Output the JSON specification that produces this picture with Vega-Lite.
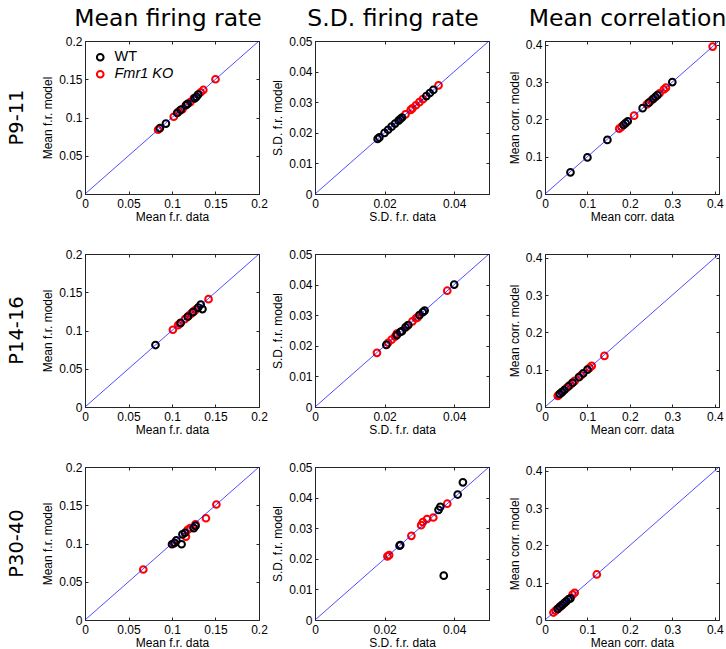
{
  "$schema": "https://vega.github.io/schema/vega-lite/v6.json",
  "padding": {"left": 6, "top": 6, "right": 0, "bottom": 0},
  "autosize": {"type": "pad"},
  "background": "white",
  "datasets": {
    "mfr_p9": [
      {"genotype": "Fmr1 KO", "data": 0.084, "model": 0.084},
      {"genotype": "Fmr1 KO", "data": 0.102, "model": 0.101},
      {"genotype": "Fmr1 KO", "data": 0.108, "model": 0.108},
      {"genotype": "Fmr1 KO", "data": 0.112, "model": 0.111},
      {"genotype": "Fmr1 KO", "data": 0.117, "model": 0.117},
      {"genotype": "Fmr1 KO", "data": 0.121, "model": 0.120},
      {"genotype": "Fmr1 KO", "data": 0.125, "model": 0.125},
      {"genotype": "Fmr1 KO", "data": 0.133, "model": 0.133},
      {"genotype": "Fmr1 KO", "data": 0.136, "model": 0.136},
      {"genotype": "Fmr1 KO", "data": 0.150, "model": 0.150},
      {"genotype": "WT", "data": 0.086, "model": 0.086},
      {"genotype": "WT", "data": 0.093, "model": 0.092},
      {"genotype": "WT", "data": 0.106, "model": 0.106},
      {"genotype": "WT", "data": 0.110, "model": 0.110},
      {"genotype": "WT", "data": 0.116, "model": 0.116},
      {"genotype": "WT", "data": 0.118, "model": 0.118},
      {"genotype": "WT", "data": 0.126, "model": 0.125},
      {"genotype": "WT", "data": 0.128, "model": 0.127},
      {"genotype": "WT", "data": 0.130, "model": 0.130}
    ],
    "sd_p9": [
      {"genotype": "Fmr1 KO", "data": 0.026, "model": 0.026},
      {"genotype": "Fmr1 KO", "data": 0.0275, "model": 0.0275},
      {"genotype": "Fmr1 KO", "data": 0.028, "model": 0.028},
      {"genotype": "Fmr1 KO", "data": 0.029, "model": 0.029},
      {"genotype": "Fmr1 KO", "data": 0.030, "model": 0.030},
      {"genotype": "Fmr1 KO", "data": 0.031, "model": 0.031},
      {"genotype": "Fmr1 KO", "data": 0.0355, "model": 0.0355},
      {"genotype": "WT", "data": 0.018, "model": 0.018},
      {"genotype": "WT", "data": 0.0185, "model": 0.0185},
      {"genotype": "WT", "data": 0.020, "model": 0.020},
      {"genotype": "WT", "data": 0.021, "model": 0.021},
      {"genotype": "WT", "data": 0.022, "model": 0.022},
      {"genotype": "WT", "data": 0.023, "model": 0.023},
      {"genotype": "WT", "data": 0.024, "model": 0.024},
      {"genotype": "WT", "data": 0.0245, "model": 0.0245},
      {"genotype": "WT", "data": 0.025, "model": 0.025},
      {"genotype": "WT", "data": 0.032, "model": 0.032},
      {"genotype": "WT", "data": 0.033, "model": 0.033},
      {"genotype": "WT", "data": 0.034, "model": 0.034}
    ],
    "mc_p9": [
      {"genotype": "Fmr1 KO", "data": 0.175, "model": 0.175},
      {"genotype": "Fmr1 KO", "data": 0.18, "model": 0.18},
      {"genotype": "Fmr1 KO", "data": 0.21, "model": 0.21},
      {"genotype": "Fmr1 KO", "data": 0.24, "model": 0.24},
      {"genotype": "Fmr1 KO", "data": 0.25, "model": 0.25},
      {"genotype": "Fmr1 KO", "data": 0.27, "model": 0.27},
      {"genotype": "Fmr1 KO", "data": 0.28, "model": 0.28},
      {"genotype": "Fmr1 KO", "data": 0.285, "model": 0.285},
      {"genotype": "Fmr1 KO", "data": 0.395, "model": 0.395},
      {"genotype": "WT", "data": 0.06, "model": 0.058},
      {"genotype": "WT", "data": 0.10, "model": 0.098},
      {"genotype": "WT", "data": 0.147, "model": 0.145},
      {"genotype": "WT", "data": 0.185, "model": 0.185},
      {"genotype": "WT", "data": 0.19, "model": 0.19},
      {"genotype": "WT", "data": 0.195, "model": 0.195},
      {"genotype": "WT", "data": 0.23, "model": 0.23},
      {"genotype": "WT", "data": 0.245, "model": 0.245},
      {"genotype": "WT", "data": 0.255, "model": 0.255},
      {"genotype": "WT", "data": 0.26, "model": 0.26},
      {"genotype": "WT", "data": 0.265, "model": 0.265},
      {"genotype": "WT", "data": 0.30, "model": 0.30}
    ],
    "mfr_p14": [
      {"genotype": "Fmr1 KO", "data": 0.101, "model": 0.101},
      {"genotype": "Fmr1 KO", "data": 0.107, "model": 0.107},
      {"genotype": "Fmr1 KO", "data": 0.109, "model": 0.109},
      {"genotype": "Fmr1 KO", "data": 0.115, "model": 0.115},
      {"genotype": "Fmr1 KO", "data": 0.119, "model": 0.119},
      {"genotype": "Fmr1 KO", "data": 0.122, "model": 0.122},
      {"genotype": "Fmr1 KO", "data": 0.125, "model": 0.125},
      {"genotype": "Fmr1 KO", "data": 0.127, "model": 0.127},
      {"genotype": "Fmr1 KO", "data": 0.142, "model": 0.141},
      {"genotype": "WT", "data": 0.081, "model": 0.081},
      {"genotype": "WT", "data": 0.110, "model": 0.110},
      {"genotype": "WT", "data": 0.118, "model": 0.118},
      {"genotype": "WT", "data": 0.124, "model": 0.124},
      {"genotype": "WT", "data": 0.130, "model": 0.130},
      {"genotype": "WT", "data": 0.135, "model": 0.128},
      {"genotype": "WT", "data": 0.133, "model": 0.134}
    ],
    "sd_p14": [
      {"genotype": "Fmr1 KO", "data": 0.0178, "model": 0.0177},
      {"genotype": "Fmr1 KO", "data": 0.021, "model": 0.021},
      {"genotype": "Fmr1 KO", "data": 0.022, "model": 0.022},
      {"genotype": "Fmr1 KO", "data": 0.023, "model": 0.023},
      {"genotype": "Fmr1 KO", "data": 0.0235, "model": 0.024},
      {"genotype": "Fmr1 KO", "data": 0.0265, "model": 0.0265},
      {"genotype": "Fmr1 KO", "data": 0.028, "model": 0.028},
      {"genotype": "Fmr1 KO", "data": 0.029, "model": 0.029},
      {"genotype": "Fmr1 KO", "data": 0.0295, "model": 0.0293},
      {"genotype": "Fmr1 KO", "data": 0.038, "model": 0.038},
      {"genotype": "WT", "data": 0.0205, "model": 0.0203},
      {"genotype": "WT", "data": 0.0235, "model": 0.0235},
      {"genotype": "WT", "data": 0.0245, "model": 0.0245},
      {"genotype": "WT", "data": 0.025, "model": 0.0248},
      {"genotype": "WT", "data": 0.026, "model": 0.026},
      {"genotype": "WT", "data": 0.0268, "model": 0.0268},
      {"genotype": "WT", "data": 0.030, "model": 0.030},
      {"genotype": "WT", "data": 0.031, "model": 0.031},
      {"genotype": "WT", "data": 0.0315, "model": 0.0315},
      {"genotype": "WT", "data": 0.040, "model": 0.040}
    ],
    "mc_p14": [
      {"genotype": "Fmr1 KO", "data": 0.03, "model": 0.03},
      {"genotype": "Fmr1 KO", "data": 0.032, "model": 0.032},
      {"genotype": "Fmr1 KO", "data": 0.04, "model": 0.04},
      {"genotype": "Fmr1 KO", "data": 0.05, "model": 0.05},
      {"genotype": "Fmr1 KO", "data": 0.06, "model": 0.06},
      {"genotype": "Fmr1 KO", "data": 0.065, "model": 0.065},
      {"genotype": "Fmr1 KO", "data": 0.07, "model": 0.07},
      {"genotype": "Fmr1 KO", "data": 0.085, "model": 0.085},
      {"genotype": "Fmr1 KO", "data": 0.105, "model": 0.105},
      {"genotype": "Fmr1 KO", "data": 0.11, "model": 0.11},
      {"genotype": "Fmr1 KO", "data": 0.14, "model": 0.137},
      {"genotype": "WT", "data": 0.035, "model": 0.035},
      {"genotype": "WT", "data": 0.04, "model": 0.04},
      {"genotype": "WT", "data": 0.045, "model": 0.045},
      {"genotype": "WT", "data": 0.055, "model": 0.055},
      {"genotype": "WT", "data": 0.065, "model": 0.065},
      {"genotype": "WT", "data": 0.08, "model": 0.08},
      {"genotype": "WT", "data": 0.09, "model": 0.09},
      {"genotype": "WT", "data": 0.1, "model": 0.1}
    ],
    "mfr_p30": [
      {"genotype": "Fmr1 KO", "data": 0.067, "model": 0.066},
      {"genotype": "Fmr1 KO", "data": 0.102, "model": 0.100},
      {"genotype": "Fmr1 KO", "data": 0.116, "model": 0.109},
      {"genotype": "Fmr1 KO", "data": 0.118, "model": 0.118},
      {"genotype": "Fmr1 KO", "data": 0.121, "model": 0.120},
      {"genotype": "Fmr1 KO", "data": 0.127, "model": 0.125},
      {"genotype": "Fmr1 KO", "data": 0.139, "model": 0.133},
      {"genotype": "Fmr1 KO", "data": 0.151, "model": 0.151},
      {"genotype": "WT", "data": 0.100, "model": 0.099},
      {"genotype": "WT", "data": 0.103, "model": 0.101},
      {"genotype": "WT", "data": 0.105, "model": 0.104},
      {"genotype": "WT", "data": 0.111, "model": 0.099},
      {"genotype": "WT", "data": 0.112, "model": 0.112},
      {"genotype": "WT", "data": 0.115, "model": 0.114},
      {"genotype": "WT", "data": 0.125, "model": 0.120},
      {"genotype": "WT", "data": 0.127, "model": 0.123}
    ],
    "sd_p30": [
      {"genotype": "Fmr1 KO", "data": 0.0208, "model": 0.0208},
      {"genotype": "Fmr1 KO", "data": 0.0213, "model": 0.0212},
      {"genotype": "Fmr1 KO", "data": 0.0277, "model": 0.0275},
      {"genotype": "Fmr1 KO", "data": 0.0305, "model": 0.031},
      {"genotype": "Fmr1 KO", "data": 0.031, "model": 0.032},
      {"genotype": "Fmr1 KO", "data": 0.0322, "model": 0.033},
      {"genotype": "Fmr1 KO", "data": 0.034, "model": 0.0335},
      {"genotype": "Fmr1 KO", "data": 0.038, "model": 0.038},
      {"genotype": "WT", "data": 0.0243, "model": 0.0243},
      {"genotype": "WT", "data": 0.0245, "model": 0.0245},
      {"genotype": "WT", "data": 0.0355, "model": 0.036},
      {"genotype": "WT", "data": 0.036, "model": 0.037},
      {"genotype": "WT", "data": 0.041, "model": 0.041},
      {"genotype": "WT", "data": 0.0425, "model": 0.045},
      {"genotype": "WT", "data": 0.037, "model": 0.0145}
    ],
    "mc_p30": [
      {"genotype": "Fmr1 KO", "data": 0.02, "model": 0.02},
      {"genotype": "Fmr1 KO", "data": 0.025, "model": 0.025},
      {"genotype": "Fmr1 KO", "data": 0.03, "model": 0.03},
      {"genotype": "Fmr1 KO", "data": 0.035, "model": 0.035},
      {"genotype": "Fmr1 KO", "data": 0.04, "model": 0.04},
      {"genotype": "Fmr1 KO", "data": 0.045, "model": 0.045},
      {"genotype": "Fmr1 KO", "data": 0.065, "model": 0.068},
      {"genotype": "Fmr1 KO", "data": 0.07, "model": 0.073},
      {"genotype": "Fmr1 KO", "data": 0.122, "model": 0.122},
      {"genotype": "WT", "data": 0.03, "model": 0.03},
      {"genotype": "WT", "data": 0.035, "model": 0.035},
      {"genotype": "WT", "data": 0.04, "model": 0.04},
      {"genotype": "WT", "data": 0.045, "model": 0.045},
      {"genotype": "WT", "data": 0.05, "model": 0.05},
      {"genotype": "WT", "data": 0.055, "model": 0.055},
      {"genotype": "WT", "data": 0.06, "model": 0.058}
    ]
  },
  "concat": [
    {
      "width": 174, "height": 153,
      "title": {"text": "P9-11", "orient": "left", "anchor": "middle", "frame": "group", "offset": 14},
      "layer": [
        {"data": {"name": "mfr_p9"}, "mark": {"type": "point", "filled": false, "strokeWidth": 2, "size": 45, "opacity": 1},
         "encoding": {
           "x": {"field": "data", "type": "quantitative", "scale": {"domain": [0, 0.2], "nice": false}, "axis": {"orient": "bottom", "values": [0, 0.05, 0.1, 0.15, 0.2], "format": "~g", "title": "Mean f.r. data"}},
           "y": {"field": "model", "type": "quantitative", "scale": {"domain": [0, 0.2], "nice": false}, "axis": {"orient": "left", "values": [0, 0.05, 0.1, 0.15, 0.2], "format": "~g", "title": "Mean f.r. model"}},
           "color": {"field": "genotype", "type": "nominal", "scale": {"domain": ["WT", "Fmr1 KO"], "range": ["#000000", "#ff0000"]},
             "legend": {"orient": "none", "legendX": 8, "legendY": 9, "title": null,
               "labelFontStyle": {"expr": "datum.label === 'Fmr1 KO' ? 'italic' : 'normal'"}}}
         }},
        {"data": {"values": [{}]}, "mark": {"type": "rule", "color": "#0000ff", "strokeWidth": 0.7},
         "encoding": {
           "x": {"datum": 0, "type": "quantitative", "axis": {"orient": "top", "values": [0, 0.05, 0.1, 0.15, 0.2], "labels": false, "title": "Mean firing rate", "titleX": 82.5}},
           "y": {"datum": 0, "type": "quantitative", "axis": {"orient": "right", "values": [0, 0.05, 0.1, 0.15, 0.2], "labels": false, "title": null}},
           "x2": {"datum": 0.2}, "y2": {"datum": 0.2}
         }}
      ],
      "resolve": {"axis": {"x": "independent", "y": "independent"}}
    },
    {
      "width": 174, "height": 153,
      "layer": [
        {"data": {"name": "sd_p9"}, "mark": {"type": "point", "filled": false, "strokeWidth": 2, "size": 45, "opacity": 1},
         "encoding": {
           "x": {"field": "data", "type": "quantitative", "scale": {"domain": [0, 0.05], "nice": false}, "axis": {"orient": "bottom", "values": [0, 0.02, 0.04], "format": "~g", "title": "S.D. f.r. data"}},
           "y": {"field": "model", "type": "quantitative", "scale": {"domain": [0, 0.05], "nice": false}, "axis": {"orient": "left", "values": [0, 0.01, 0.02, 0.03, 0.04, 0.05], "format": "~g", "title": "S.D. f.r. model"}},
           "color": {"field": "genotype", "type": "nominal", "scale": {"domain": ["WT", "Fmr1 KO"], "range": ["#000000", "#ff0000"]}, "legend": null}
         }},
        {"data": {"values": [{}]}, "mark": {"type": "rule", "color": "#0000ff", "strokeWidth": 0.7},
         "encoding": {
           "x": {"datum": 0, "type": "quantitative", "axis": {"orient": "top", "values": [0, 0.02, 0.04], "labels": false, "title": "S.D. firing rate", "titleX": 77.5}},
           "y": {"datum": 0, "type": "quantitative", "axis": {"orient": "right", "values": [0, 0.01, 0.02, 0.03, 0.04, 0.05], "labels": false, "title": null}},
           "x2": {"datum": 0.05}, "y2": {"datum": 0.05}
         }}
      ],
      "resolve": {"axis": {"x": "independent", "y": "independent"}}
    },
    {
      "width": 174, "height": 153,
      "layer": [
        {"data": {"name": "mc_p9"}, "mark": {"type": "point", "filled": false, "strokeWidth": 2, "size": 45, "opacity": 1},
         "encoding": {
           "x": {"field": "data", "type": "quantitative", "scale": {"domain": [0, 0.41], "nice": false}, "axis": {"orient": "bottom", "values": [0, 0.1, 0.2, 0.3, 0.4], "format": "~g", "title": "Mean corr. data"}},
           "y": {"field": "model", "type": "quantitative", "scale": {"domain": [0, 0.41], "nice": false}, "axis": {"orient": "left", "values": [0, 0.1, 0.2, 0.3, 0.4], "format": "~g", "title": "Mean corr. model"}},
           "color": {"field": "genotype", "type": "nominal", "scale": {"domain": ["WT", "Fmr1 KO"], "range": ["#000000", "#ff0000"]}, "legend": null}
         }},
        {"data": {"values": [{}]}, "mark": {"type": "rule", "color": "#0000ff", "strokeWidth": 0.7},
         "encoding": {
           "x": {"datum": 0, "type": "quantitative", "axis": {"orient": "top", "values": [0, 0.1, 0.2, 0.3, 0.4], "labels": false, "title": "Mean correlation", "titleX": 82}},
           "y": {"datum": 0, "type": "quantitative", "axis": {"orient": "right", "values": [0, 0.1, 0.2, 0.3, 0.4], "labels": false, "title": null}},
           "x2": {"datum": 0.41}, "y2": {"datum": 0.41}
         }}
      ],
      "resolve": {"axis": {"x": "independent", "y": "independent"}}
    },
    {
      "width": 174, "height": 153,
      "title": {"text": "P14-16", "orient": "left", "anchor": "middle", "frame": "group", "offset": 14},
      "layer": [
        {"data": {"name": "mfr_p14"}, "mark": {"type": "point", "filled": false, "strokeWidth": 2, "size": 45, "opacity": 1},
         "encoding": {
           "x": {"field": "data", "type": "quantitative", "scale": {"domain": [0, 0.2], "nice": false}, "axis": {"orient": "bottom", "values": [0, 0.05, 0.1, 0.15, 0.2], "format": "~g", "title": "Mean f.r. data"}},
           "y": {"field": "model", "type": "quantitative", "scale": {"domain": [0, 0.2], "nice": false}, "axis": {"orient": "left", "values": [0, 0.05, 0.1, 0.15, 0.2], "format": "~g", "title": "Mean f.r. model"}},
           "color": {"field": "genotype", "type": "nominal", "scale": {"domain": ["WT", "Fmr1 KO"], "range": ["#000000", "#ff0000"]}, "legend": null}
         }},
        {"data": {"values": [{}]}, "mark": {"type": "rule", "color": "#0000ff", "strokeWidth": 0.7},
         "encoding": {
           "x": {"datum": 0, "type": "quantitative", "axis": {"orient": "top", "values": [0, 0.05, 0.1, 0.15, 0.2], "labels": false, "title": null}},
           "y": {"datum": 0, "type": "quantitative", "axis": {"orient": "right", "values": [0, 0.05, 0.1, 0.15, 0.2], "labels": false, "title": null}},
           "x2": {"datum": 0.2}, "y2": {"datum": 0.2}
         }}
      ],
      "resolve": {"axis": {"x": "independent", "y": "independent"}}
    },
    {
      "width": 174, "height": 153,
      "layer": [
        {"data": {"name": "sd_p14"}, "mark": {"type": "point", "filled": false, "strokeWidth": 2, "size": 45, "opacity": 1},
         "encoding": {
           "x": {"field": "data", "type": "quantitative", "scale": {"domain": [0, 0.05], "nice": false}, "axis": {"orient": "bottom", "values": [0, 0.02, 0.04], "format": "~g", "title": "S.D. f.r. data"}},
           "y": {"field": "model", "type": "quantitative", "scale": {"domain": [0, 0.05], "nice": false}, "axis": {"orient": "left", "values": [0, 0.01, 0.02, 0.03, 0.04, 0.05], "format": "~g", "title": "S.D. f.r. model"}},
           "color": {"field": "genotype", "type": "nominal", "scale": {"domain": ["WT", "Fmr1 KO"], "range": ["#000000", "#ff0000"]}, "legend": null}
         }},
        {"data": {"values": [{}]}, "mark": {"type": "rule", "color": "#0000ff", "strokeWidth": 0.7},
         "encoding": {
           "x": {"datum": 0, "type": "quantitative", "axis": {"orient": "top", "values": [0, 0.02, 0.04], "labels": false, "title": null}},
           "y": {"datum": 0, "type": "quantitative", "axis": {"orient": "right", "values": [0, 0.01, 0.02, 0.03, 0.04, 0.05], "labels": false, "title": null}},
           "x2": {"datum": 0.05}, "y2": {"datum": 0.05}
         }}
      ],
      "resolve": {"axis": {"x": "independent", "y": "independent"}}
    },
    {
      "width": 174, "height": 153,
      "layer": [
        {"data": {"name": "mc_p14"}, "mark": {"type": "point", "filled": false, "strokeWidth": 2, "size": 45, "opacity": 1},
         "encoding": {
           "x": {"field": "data", "type": "quantitative", "scale": {"domain": [0, 0.41], "nice": false}, "axis": {"orient": "bottom", "values": [0, 0.1, 0.2, 0.3, 0.4], "format": "~g", "title": "Mean corr. data"}},
           "y": {"field": "model", "type": "quantitative", "scale": {"domain": [0, 0.41], "nice": false}, "axis": {"orient": "left", "values": [0, 0.1, 0.2, 0.3, 0.4], "format": "~g", "title": "Mean corr. model"}},
           "color": {"field": "genotype", "type": "nominal", "scale": {"domain": ["WT", "Fmr1 KO"], "range": ["#000000", "#ff0000"]}, "legend": null}
         }},
        {"data": {"values": [{}]}, "mark": {"type": "rule", "color": "#0000ff", "strokeWidth": 0.7},
         "encoding": {
           "x": {"datum": 0, "type": "quantitative", "axis": {"orient": "top", "values": [0, 0.1, 0.2, 0.3, 0.4], "labels": false, "title": null}},
           "y": {"datum": 0, "type": "quantitative", "axis": {"orient": "right", "values": [0, 0.1, 0.2, 0.3, 0.4], "labels": false, "title": null}},
           "x2": {"datum": 0.41}, "y2": {"datum": 0.41}
         }}
      ],
      "resolve": {"axis": {"x": "independent", "y": "independent"}}
    },
    {
      "width": 174, "height": 153,
      "title": {"text": "P30-40", "orient": "left", "anchor": "middle", "frame": "group", "offset": 14},
      "layer": [
        {"data": {"name": "mfr_p30"}, "mark": {"type": "point", "filled": false, "strokeWidth": 2, "size": 45, "opacity": 1},
         "encoding": {
           "x": {"field": "data", "type": "quantitative", "scale": {"domain": [0, 0.2], "nice": false}, "axis": {"orient": "bottom", "values": [0, 0.05, 0.1, 0.15, 0.2], "format": "~g", "title": "Mean f.r. data"}},
           "y": {"field": "model", "type": "quantitative", "scale": {"domain": [0, 0.2], "nice": false}, "axis": {"orient": "left", "values": [0, 0.05, 0.1, 0.15, 0.2], "format": "~g", "title": "Mean f.r. model"}},
           "color": {"field": "genotype", "type": "nominal", "scale": {"domain": ["WT", "Fmr1 KO"], "range": ["#000000", "#ff0000"]}, "legend": null}
         }},
        {"data": {"values": [{}]}, "mark": {"type": "rule", "color": "#0000ff", "strokeWidth": 0.7},
         "encoding": {
           "x": {"datum": 0, "type": "quantitative", "axis": {"orient": "top", "values": [0, 0.05, 0.1, 0.15, 0.2], "labels": false, "title": null}},
           "y": {"datum": 0, "type": "quantitative", "axis": {"orient": "right", "values": [0, 0.05, 0.1, 0.15, 0.2], "labels": false, "title": null}},
           "x2": {"datum": 0.2}, "y2": {"datum": 0.2}
         }}
      ],
      "resolve": {"axis": {"x": "independent", "y": "independent"}}
    },
    {
      "width": 174, "height": 153,
      "layer": [
        {"data": {"name": "sd_p30"}, "mark": {"type": "point", "filled": false, "strokeWidth": 2, "size": 45, "opacity": 1},
         "encoding": {
           "x": {"field": "data", "type": "quantitative", "scale": {"domain": [0, 0.05], "nice": false}, "axis": {"orient": "bottom", "values": [0, 0.02, 0.04], "format": "~g", "title": "S.D. f.r. data"}},
           "y": {"field": "model", "type": "quantitative", "scale": {"domain": [0, 0.05], "nice": false}, "axis": {"orient": "left", "values": [0, 0.01, 0.02, 0.03, 0.04, 0.05], "format": "~g", "title": "S.D. f.r. model"}},
           "color": {"field": "genotype", "type": "nominal", "scale": {"domain": ["WT", "Fmr1 KO"], "range": ["#000000", "#ff0000"]}, "legend": null}
         }},
        {"data": {"values": [{}]}, "mark": {"type": "rule", "color": "#0000ff", "strokeWidth": 0.7},
         "encoding": {
           "x": {"datum": 0, "type": "quantitative", "axis": {"orient": "top", "values": [0, 0.02, 0.04], "labels": false, "title": null}},
           "y": {"datum": 0, "type": "quantitative", "axis": {"orient": "right", "values": [0, 0.01, 0.02, 0.03, 0.04, 0.05], "labels": false, "title": null}},
           "x2": {"datum": 0.05}, "y2": {"datum": 0.05}
         }}
      ],
      "resolve": {"axis": {"x": "independent", "y": "independent"}}
    },
    {
      "width": 174, "height": 153,
      "layer": [
        {"data": {"name": "mc_p30"}, "mark": {"type": "point", "filled": false, "strokeWidth": 2, "size": 45, "opacity": 1},
         "encoding": {
           "x": {"field": "data", "type": "quantitative", "scale": {"domain": [0, 0.41], "nice": false}, "axis": {"orient": "bottom", "values": [0, 0.1, 0.2, 0.3, 0.4], "format": "~g", "title": "Mean corr. data"}},
           "y": {"field": "model", "type": "quantitative", "scale": {"domain": [0, 0.41], "nice": false}, "axis": {"orient": "left", "values": [0, 0.1, 0.2, 0.3, 0.4], "format": "~g", "title": "Mean corr. model"}},
           "color": {"field": "genotype", "type": "nominal", "scale": {"domain": ["WT", "Fmr1 KO"], "range": ["#000000", "#ff0000"]}, "legend": null}
         }},
        {"data": {"values": [{}]}, "mark": {"type": "rule", "color": "#0000ff", "strokeWidth": 0.7},
         "encoding": {
           "x": {"datum": 0, "type": "quantitative", "axis": {"orient": "top", "values": [0, 0.1, 0.2, 0.3, 0.4], "labels": false, "title": null}},
           "y": {"datum": 0, "type": "quantitative", "axis": {"orient": "right", "values": [0, 0.1, 0.2, 0.3, 0.4], "labels": false, "title": null}},
           "x2": {"datum": 0.41}, "y2": {"datum": 0.41}
         }}
      ],
      "resolve": {"axis": {"x": "independent", "y": "independent"}}
    }
  ],
  "columns": 3,
  "bounds": "flush",
  "spacing": {"row": 60, "column": 56},
  "resolve": {"scale": {"color": "independent"}, "legend": {"color": "independent"}},
  "config": {
    "view": {"stroke": "#262626", "strokeWidth": 1},
    "axis": {"labelFont": "Liberation Sans", "labelFontSize": 12, "labelColor": "#000000", "titleFont": "Liberation Sans", "titleFontSize": 12, "titleFontWeight": "normal", "titleColor": "#000000", "domainColor": "#262626", "tickColor": "#262626", "tickSize": -3, "grid": false, "labelPadding": 7, "labelFlush": false, "labelOverlap": false},
    "axisX": {"titlePadding": 2},
    "axisY": {"titlePadding": 4, "labelPadding": 6},
    "axisTop": {"titleFont": "DejaVu Sans", "titleFontSize": 23.5, "titlePadding": 10},
    "legend": {"labelFont": "Liberation Sans", "labelFontSize": 14.5, "labelColor": "#000000", "symbolStrokeWidth": 2, "symbolSize": 45, "rowPadding": 1, "labelOffset": 7, "padding": 0},
    "title": {"font": "DejaVu Sans", "fontSize": 19.5, "fontWeight": "normal", "color": "#000000"}
  }
}
